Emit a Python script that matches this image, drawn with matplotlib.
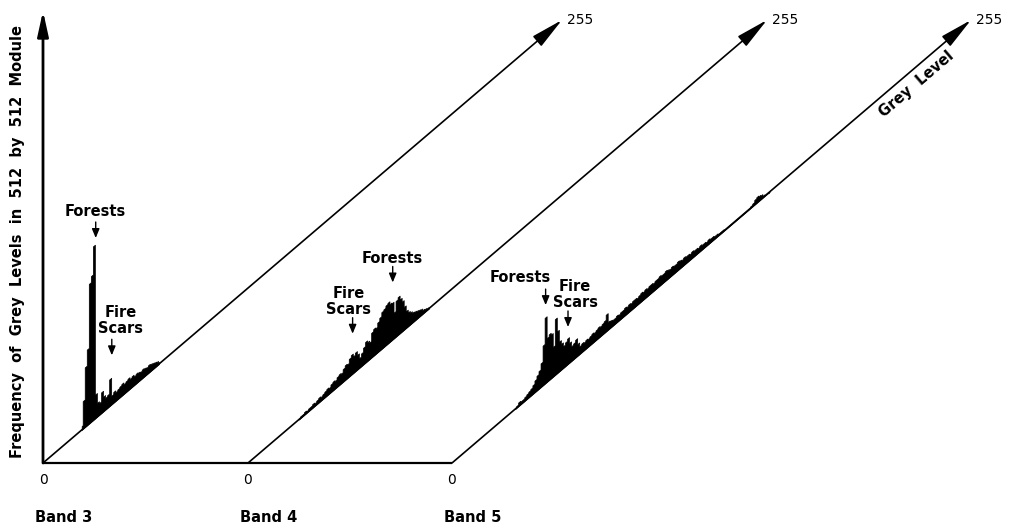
import numpy as np
import matplotlib.pyplot as plt
from matplotlib.transforms import Affine2D

# Grey-level histograms of the three Landsat bands (relative frequency,
# one value per grey level, starting at the given level)
band3_start = 19
band3_freq = [4, 28, 60, 76, 140, 146, 174, 24, 14, 12, 21, 15, 12, 13, 27, 9,
              11, 9, 10, 11, 12, 10, 11, 12, 10, 11, 9, 10, 9, 8, 9, 8, 7, 8,
              7, 6, 5, 4, 2]

band4_start = 25
band4_freq = [1, 2, 2, 3, 2, 3, 3, 4, 3, 4, 5, 4, 5, 6, 7, 6, 8, 9, 8, 10,
              11, 10, 13, 15, 14, 18, 20, 17, 19, 15, 10, 13, 17, 21, 19, 17,
              25, 27, 26, 30, 33, 37, 38, 40, 41, 38, 37, 26, 36, 38, 34, 30,
              23, 17, 14, 12, 10, 9, 8, 7, 6, 4, 3, 2, 1]

band5_start = 31
band5_freq = [1, 2, 4, 3, 3, 4, 5, 6, 7, 9, 12, 15, 18, 24, 40, 66, 44, 46,
              44, 30, 56, 42, 30, 26, 22, 24, 26, 20, 15, 16, 18, 12, 8, 9, 8,
              9, 8, 9, 10, 9, 10, 11, 10, 11, 12, 17, 8, 7, 6, 6, 7, 6, 7, 7,
              8, 7, 8, 7, 8, 8, 7, 8, 9, 8, 9, 8, 9, 9, 8, 9, 9, 10, 9, 9, 10,
              9, 8, 9, 8, 8, 9, 8, 7, 8, 7, 7, 6, 7, 6, 6, 5, 6, 5, 5, 4, 5, 4,
              4, 3, 3, 2, 2, 2, 1, 1, 1, 1, 1, 1, 1, 1, 1, 1, 1, 1, 1, 2, 3, 5,
              6, 5, 4, 2, 1, 1, 0]

band_names = ["Band 3", "Band 4", "Band 5"]
grey_max = 255

fig = plt.figure(figsize=(10.14, 5.29), dpi=100)
ax = fig.add_axes([0, 0, 1, 1])
ax.set_xlim(0, 1014)
ax.set_ylim(529, 0)
ax.axis("off")

font = dict(family="DejaVu Sans", fontweight="bold", color="black")

# oblique "grey level" axes: each band has its own origin on the baseline
origins = [43, 248, 452]
base_y = 463
run_x, run_y = 519, 443


def band_transform(ox):
    m = np.array([[run_x / grey_max, 0, ox],
                  [-run_y / grey_max, -1, base_y],
                  [0, 0, 1]])
    return Affine2D(m) + ax.transData


trs = [band_transform(ox) for ox in origins]

hists = [(band3_start, band3_freq), (band4_start, band4_freq),
         (band5_start, band5_freq)]
for tr, (start, freq) in zip(trs, hists):
    g = np.arange(start, start + len(freq))
    ax.fill_between(g, 0, freq, step="mid", transform=tr, color="black",
                    lw=0.5, edgecolor="black")

for tr in trs:
    ax.annotate("", xy=(grey_max, 0), xytext=(0, 0), xycoords=tr, textcoords=tr,
                arrowprops=dict(arrowstyle="-|>,head_length=1.0,head_width=0.2",
                                mutation_scale=20, lw=1.2, color="black",
                                shrinkA=0, shrinkB=0))
    ax.annotate("255", xy=(grey_max, 0), xycoords=tr, xytext=(5, 0),
                textcoords="offset pixels", ha="left", va="center",
                fontsize=10, family="DejaVu Sans")

# baseline and frequency axis
ax.plot([origins[0], origins[-1]], [base_y, base_y], color="black", lw=1.6,
        solid_capstyle="butt")
ax.annotate("", xy=(origins[0], 11), xytext=(origins[0], base_y),
            arrowprops=dict(arrowstyle="-|>,head_length=1.0,head_width=0.22",
                            mutation_scale=15, lw=2.0, color="black",
                            shrinkA=0, shrinkB=0))

for ox, name in zip(origins, band_names):
    ax.text(ox, 480, "0", ha="center", va="center", fontsize=10,
            family="DejaVu Sans")
    ax.text(ox + 21, 517, name, ha="center", va="center", fontsize=10.5, **font)

ax.text(18, 242, "Frequency  of  Grey  Levels  in  512  by  512  Module",
        rotation=90, ha="center", va="center", fontsize=10.5, **font)

ax.annotate("Grey  Level", xy=(224, 0), xycoords=trs[2], xytext=(8.6, -10.1),
            textcoords="offset pixels", rotation=40.5, rotation_mode="anchor",
            ha="center", va="center", fontsize=10.5, **font)

# feature labels: band, label, arrow tip (grey level, height), text offset
notes = [
    (0, "Forests", (25.9, 180), (0, 22)),
    (0, "Fire\nScars", (33.8, 49), (9, 19)),
    (1, "Forests", (71.1, 57), (0, 19)),
    (1, "Fire\nScars", (51.4, 40), (-4, 17)),
    (2, "Forests", (46.0, 78), (-25, 23)),
    (2, "Fire\nScars", (57.0, 37), (7, 17)),
]
for b, label, tip, (dx, dy) in notes:
    tr = trs[b]
    ax.annotate("", xy=tip, xycoords=tr, xytext=(0, 16),
                textcoords="offset pixels",
                arrowprops=dict(arrowstyle="-|>,head_length=0.6,head_width=0.25",
                                mutation_scale=9, lw=1.0, color="black",
                                shrinkA=0, shrinkB=0))
    va = "baseline" if "\n" not in label else "bottom"
    ax.annotate(label, xy=tip, xycoords=tr, xytext=(dx, dy),
                textcoords="offset pixels", ha="center", va=va,
                fontsize=10.5, linespacing=1.1, **font)

fig.savefig("out.png", dpi=100)
